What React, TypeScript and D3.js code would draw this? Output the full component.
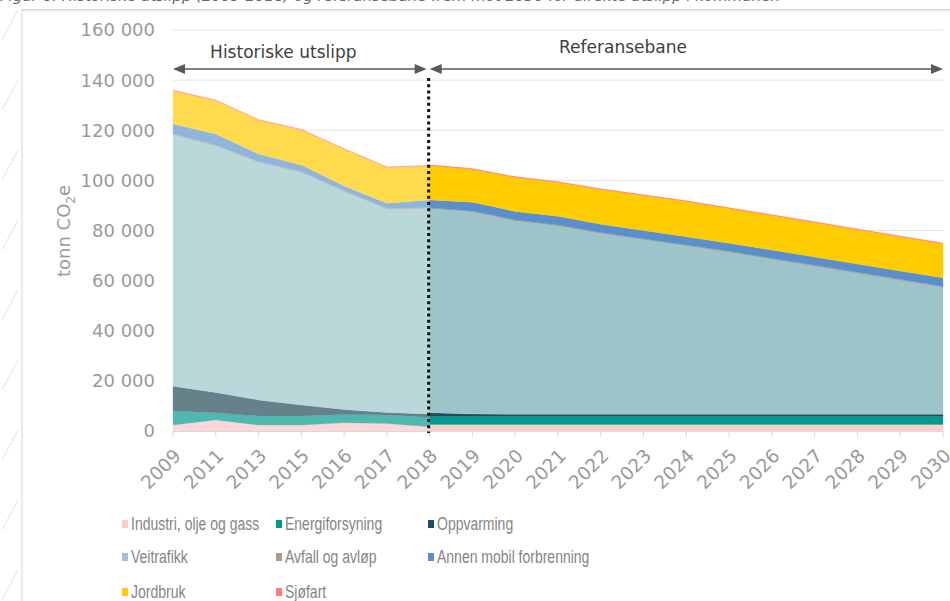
import React from "react";
import * as d3 from "d3";

const years = ["2009","2011","2013","2015","2016","2017","2018","2019","2020","2021","2022","2023","2024","2025","2026","2027","2028","2029","2030"];
const histYears = years.slice(0, 7);
const futYears = years.slice(6);

const seriesNames = ["Industri, olje og gass","Energiforsyning","Oppvarming","Veitrafikk","Avfall og avløp","Annen mobil forbrenning","Jordbruk","Sjøfart"];

// Historic values 2009..2018
const histIndustri = [2400, 4400, 2400, 2400, 3300, 3000, 1700];
const histEnergi = [5600, 2900, 3600, 3600, 3300, 3400, 3800];
const histOppvarming = [9900, 8100, 6400, 4400, 2000, 1000, 1300];
const histVeitrafikk = [100300, 98400, 94800, 92800, 87000, 81200, 82000];
const histAvfall = [300, 300, 300, 300, 300, 300, 300];
const histAnnen = [4000, 4400, 3000, 2600, 1900, 2000, 3100];
const histJordbruk = [13300, 13300, 13500, 14000, 14600, 14200, 13500];
const histSjofart = [300, 300, 300, 300, 300, 300, 300];

// Reference path 2018..2030
const futIndustri = [2600, 2600, 2600, 2600, 2600, 2600, 2600, 2600, 2600, 2600, 2600, 2600, 2600];
const futEnergi = [3300, 3300, 3300, 3300, 3300, 3300, 3300, 3300, 3300, 3300, 3300, 3300, 3300];
const futOppvarming = [1400, 900, 800, 800, 800, 800, 800, 800, 800, 800, 800, 800, 800];
const futVeitrafikk = [81500, 80700, 77200, 75200, 72200, 69700, 67200, 64700, 61900, 59100, 56300, 53500, 50700];
const futAvfall = [300, 300, 300, 300, 300, 300, 300, 300, 300, 300, 300, 300, 300];
const futAnnen = [3100, 3500, 3400, 3500, 3300, 3300, 3300, 3200, 3300, 3300, 3300, 3300, 3400];
const futJordbruk = [13700, 13100, 13600, 13500, 13900, 14000, 14100, 13900, 13800, 13800, 13700, 13700, 13600];
const futSjofart = [300, 300, 300, 300, 300, 300, 300, 300, 300, 300, 300, 300, 300];

const yTicks = [0, 20000, 40000, 60000, 80000, 100000, 120000, 140000, 160000];

const histColors = ["#fdd7d7", "#4fb9b1", "#66818a", "#bad8da", "#c4b9af", "#8fb5dd", "#ffda4d", "#ff9c9c"];
const futColors = ["#ffcccc", "#009a91", "#1f4e5e", "#9dc5c9", "#a89c92", "#5b8fcb", "#ffcc00", "#ff7c80"];

const histSeries = [histIndustri, histEnergi, histOppvarming, histVeitrafikk, histAvfall, histAnnen, histJordbruk, histSjofart];
const futSeries = [futIndustri, futEnergi, futOppvarming, futVeitrafikk, futAvfall, futAnnen, futJordbruk, futSjofart];

const fmt = d3.formatLocale({ thousands: "\u00a0", grouping: [3], decimal: ",", currency: ["", ""] }).format(",");

export default function App() {
  const x = d3.scalePoint<string>().domain(years).range([173, 943]);
  const y = d3.scaleLinear().domain([0, 160000]).range([431, 30]);

  const mk = (yrs: string[], cols: number[][]) =>
    yrs.map((yr, i) => {
      const o: any = { year: yr };
      cols.forEach((c, k) => (o[seriesNames[k]] = c[i]));
      return o;
    });
  const stack = d3.stack<any>().keys(seriesNames);
  const histStack = stack(mk(histYears, histSeries));
  const futStack = stack(mk(futYears, futSeries));
  const area = d3
    .area<any>()
    .x((d) => x(d.data.year) as number)
    .y0((d) => y(d[0]))
    .y1((d) => y(d[1]));

  const x0 = 173, x1 = 943, xSplit = x("2018") as number;
  const tickFont = "'DejaVu Sans', Verdana, sans-serif";
  const legendCols = [122, 276, 428];
  const legendRows = [524, 557, 592];

  const arrowY = 69;
  const head = (tipX: number, dir: number) =>
    `M${tipX},${arrowY} L${tipX + dir * 12},${arrowY - 5} L${tipX + dir * 12},${arrowY + 5} Z`;

  const slashes = [40, 110, 180, 250, 320, 390, 460, 530, 600];

  return (
    <div style={{ position: "absolute", left: 0, top: 0 }}>
      <svg width={950} height={601} style={{ display: "block", background: "#fff" }}>
        {/* page background artifacts */}
        {slashes.map((s, i) => (
          <line key={i} x1={2} y1={s} x2={18} y2={s - 30} stroke="#e4e4e4" strokeWidth={1} />
        ))}
        <text x={0} y={1} fontFamily={tickFont} fontSize={14} fontStyle="italic" fill="#666" textLength={780} lengthAdjust="spacingAndGlyphs">
          Figur 6: Historiske utslipp (2009-2018) og referansebane frem mot 2030 for direkte utslipp i kommunen
        </text>
        <rect x={22} y={9.5} width={940} height={600} fill="none" stroke="#d6d6d6" strokeWidth={1} />
        <line x1={23} y1={11} x2={950} y2={11} stroke="#efefef" strokeWidth={2} />

        {/* gridlines */}
        {yTicks.map((t) => (
          <line key={t} x1={x0} x2={x1} y1={y(t)} y2={y(t)} stroke="#e3e3e3" strokeWidth={1} />
        ))}

        {/* areas */}
        {histStack.map((s, i) => (
          <path key={"h" + i} d={area(s) as string} fill={histColors[i]} stroke={histColors[i]} strokeWidth={0.3} />
        ))}
        {futStack.map((s, i) => (
          <path key={"f" + i} d={area(s) as string} fill={futColors[i]} stroke={futColors[i]} strokeWidth={0.3} />
        ))}

        {/* x axis ticks */}
        <line x1={x0} x2={x1} y1={431.5} y2={431.5} stroke="#d9d9d9" />
        {years.map((yr) => (
          <line key={yr} x1={x(yr)} x2={x(yr)} y1={431} y2={437} stroke="#d9d9d9" />
        ))}
        {years.map((yr) => (
          <text
            key={"l" + yr}
            transform={`translate(${(x(yr) as number) + 9},${457}) rotate(-45)`}
            textAnchor="end"
            fontFamily={tickFont}
            fontSize={18.5}
            fill="#9a9a9a"
          >
            {yr}
          </text>
        ))}

        {/* y tick labels */}
        {yTicks.map((t) => (
          <text key={"y" + t} x={155} y={y(t)} dy="0.36em" textAnchor="end" fontFamily={tickFont} fontSize={18} fill="#9a9a9a">
            {fmt(t)}
          </text>
        ))}
        <text transform="translate(70,231) rotate(-90)" textAnchor="middle" fontFamily={tickFont} fontSize={18} fill="#9a9a9a">
          tonn CO<tspan fontSize={12} dy={5}>2</tspan>
          <tspan dy={-5}>e</tspan>
        </text>

        {/* divider */}
        <line x1={xSplit - 1} x2={xSplit - 1} y1={78} y2={433} stroke="#111" strokeWidth={3} strokeDasharray="3,3.2" />

        {/* arrows */}
        <line x1={x0 + 8} x2={xSplit - 10} y1={arrowY} y2={arrowY} stroke="#595959" strokeWidth={1.5} />
        <path d={head(x0, 1)} fill="#595959" />
        <path d={head(xSplit - 3, -1)} fill="#595959" />
        <line x1={xSplit + 8} x2={x1 - 8} y1={arrowY} y2={arrowY} stroke="#595959" strokeWidth={1.5} />
        <path d={head(xSplit, 1)} fill="#595959" />
        <path d={head(x1, -1)} fill="#595959" />
        <text x={(x0 + xSplit) / 2 - 18} y={58} textAnchor="middle" fontFamily={tickFont} fontSize={17} fill="#404040">
          Historiske utslipp
        </text>
        <text x={623} y={53} textAnchor="middle" fontFamily={tickFont} fontSize={17} fill="#404040">
          Referansebane
        </text>

        {/* legend */}
        {seriesNames.map((n, i) => {
          const lx = legendCols[i % 3];
          const ly = legendRows[Math.floor(i / 3)];
          return (
            <g key={"lg" + i}>
              <rect x={lx} y={ly - 4} width={6} height={8} fill={futColors[i]} />
              <text
                transform={`translate(${lx + 9},${ly}) scale(0.8,1)`}
                dy="0.36em"
                fontFamily="'Liberation Sans', Arial, sans-serif"
                fontSize={17.5}
                fill="#858585"
              >
                {n}
              </text>
            </g>
          );
        })}
      </svg>
    </div>
  );
}
